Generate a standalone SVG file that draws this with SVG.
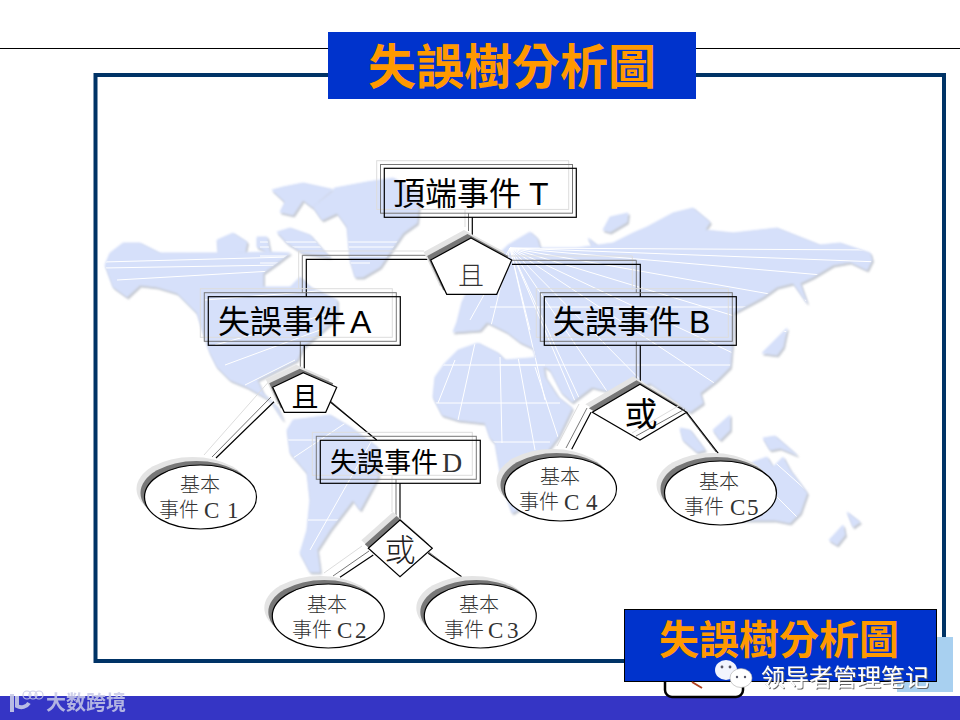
<svg xmlns="http://www.w3.org/2000/svg" width="960" height="720" viewBox="0 0 960 720">
<style>
.c{font-family:"Liberation Sans","Noto Sans CJK TC",sans-serif}
.h{font-family:"Liberation Sans","Noto Sans CJK TC",sans-serif;font-size:32px;fill:#000}
.s{font-family:"Noto Sans CJK TC",sans-serif;font-size:20px;fill:#333;font-weight:300}
.l{font-family:"Liberation Serif",serif;font-size:23px;fill:#333}
.t{font-family:"Noto Sans CJK TC",sans-serif;font-weight:700;fill:#ff9900}
.k{fill:none;stroke:#000;stroke-width:1.2}
.g{fill:none;stroke:#777;stroke-width:1}
.w{fill:none;stroke:#ddd;stroke-width:1}
.sd{fill:#777;stroke:none}
.sl{fill:#e4e4e4;stroke:none}
.sh{fill:#fff;stroke:#000;stroke-width:1.2}
.f{stroke:#fff;stroke-width:1;fill:none}
</style>
<defs>
<path id="m" d="M105,265L110,253L123,243L140,243L160,253L187,253L217,253L237,253L267,252L290,253L277,263L263,273L263,287L290,287L300,277L310,287L337,300L337,317L323,330L303,347L297,360L277,370L257,380L263,393L277,407L283,420L270,400L247,387L230,380L217,367L210,353L203,333L197,313L177,293L157,287L140,285L127,297L113,287Z
M217,240L233,233L247,242L245,252L218,253Z M257,237L267,237L270,253L257,247Z M277,232L290,228L310,235L323,250L330,257L303,253L287,243Z
M272,190L283,187L303,183L335,190L325,198L313,207L322,220L337,213L347,227L350,260L355,277L363,277L380,267L403,233L417,223L420,193L393,178L367,182L335,188L312,207L303,200L293,215L280,212L285,202Z
M287,430L293,420L330,415L350,427L377,447L378,477L360,510L353,500L330,530L317,550L320,572L310,572L300,553L307,530L310,500L307,473L290,453Z
M508,245L530,232L537,238L540,248L577,248L613,243L633,233L647,227L673,213L693,208L710,222L705,230L733,233L777,228L820,245L840,243L870,253L872,260L867,270L850,262L833,265L813,277L800,283L807,303L793,283L777,287L763,297L733,313L733,333L730,367L717,380L700,393L703,403L690,412L680,405L667,395L650,383L640,387L625,395L612,392L592,387L572,402L562,393L550,370L537,362L533,348L520,342L507,332L487,322L480,330L453,332L457,322L462,302L470,285L490,262Z
M458,350L478,343L498,353L505,360L542,357L545,377L558,397L572,408L558,437L548,450L535,500L512,513L502,483L495,443L490,438L485,423L458,420L442,415L433,397L435,377L445,363Z
M603,230L610,217L628,213L627,222L610,232Z M588,238L597,245L592,246Z M762,353L787,328L783,347L777,355Z
M713,430L730,415L730,430L720,440Z M680,428L690,430L705,450L697,452L683,440Z M763,438L775,436L797,455L780,448L770,450Z
M753,462L767,457L773,467L783,457L790,470L807,493L800,513L790,523L775,520L740,520L720,490Z
M847,512L860,522L853,527Z M843,525L845,535L837,545L829,540Z"/>
<clipPath id="mc"><use href="#m"/></clipPath>
<filter id="soft" x="-5%" y="-5%" width="110%" height="110%"><feGaussianBlur stdDeviation="0.8"/></filter>
<filter id="ds" x="-5%" y="-20%" width="110%" height="140%"><feDropShadow dx="1" dy="1" stdDeviation="0.6" flood-color="#666"/></filter>
<polygon id="p1" points="471,238 511.7,260 496.7,294.3 446.7,294.3 430.7,260"/>
<polygon id="p2" points="303.3,372.7 336.7,387.3 325.7,412.3 284.3,412.3 272.7,387.3"/>
<polygon id="d1" points="640,384.3 686.7,412.3 640,440 592.3,412.3"/>
<polygon id="d2" points="400,520 432.3,548.3 400,576.7 368.3,548.3"/>
</defs>
<rect width="960" height="720" fill="#fff"/>
<g id="map">
<use href="#m" x="1.5" y="2" fill="#c6cad2" stroke="#c6cad2" stroke-linejoin="round" filter="url(#soft)"/>
<use href="#m" fill="#d6e0fa" stroke="#d6e0fa" stroke-linejoin="round" filter="url(#soft)"/>
<g clip-path="url(#mc)">
<path class="f" d="M103,262L290,257M103,268L283,265M117,280L290,270M205,300L330,290M215,345L335,312M225,365L320,330M245,385L295,360M260,242H420M260,247H420M260,256H420M260,263H370M290,460L350,420M310,550L372,440M285,440L380,440M300,520L345,520M433,365H545M433,403H560M490,442H550M475,343L458,420M455,360L438,403M500,357L502,443M518,357L535,450M535,367L558,437M510,248L880,250M510,248L880,262M510,248L880,280M510,248L860,310M510,248L830,345M510,248L790,380M510,248L740,400M510,248L680,420M510,248L640,440M510,248L600,460M510,248L580,400M510,248L545,400M510,248L530,330M510,248L490,330M510,248L470,320M490,307H760M500,365H740M770,458L806,490M750,470L800,520"/>
</g>
</g>
<g id="header">
<line x1="0" y1="48.5" x2="960" y2="48.5" stroke="#000"/>
<rect x="95.5" y="75" width="848.5" height="586" fill="none" stroke="#003366" stroke-width="4"/>
<rect x="328" y="32" width="368" height="67" fill="#0033cc"/>
<text class="t" x="512" y="84" font-size="48" text-anchor="middle">失誤樹分析圖</text>
</g>
<g id="connectors">
<path class="w" d="M465,209V227M298.7,289V251H424M272,378L204,455M579,404L557,446M392,476V512M362,546L324,573M500,256H632.3V290"/>
<path class="g" d="M468.5,213V231M302.3,293V255.3H428M271,397L212,457M587,408L566,448M396,479V516M369,551L333,576M512,260.3H636.3V293M300.3,341V368M636.3,341V380M327,398L374,438M683,409L716,452M426,550L459,575"/>
<path class="k" d="M472.3,217V238M430.7,259.3H306.3V297M512,264.3H640.3V297M304.3,345V373M274,401.7L216,458M330,401.7L376.7,440M640.3,345V384M591,412.3L571.7,449.3M686.7,412.3L718.3,453.3M400,483V520M373.3,555L340,577.3M428.3,553.3L461.7,576.7"/>
</g>
<g id="node-T">
<rect class="w" x="376.7" y="160.7" width="192" height="48.7"/><rect class="g" x="380.5" y="164.5" width="192" height="48.7"/><rect class="k" x="384.3" y="168.3" width="192" height="49"/>
<text class="h" x="393" y="205">頂端事件<tspan x="529">T</tspan></text>
</g>
<g id="gate-T">
<use href="#p1" class="sl" x="-7" y="-8"/><use href="#p1" class="sd" x="-3.5" y="-4"/>
<use href="#p1" class="sh"/>
<text class="c" x="471" y="285" font-size="26" fill="#333" text-anchor="middle" font-weight="300">且</text>
</g>
<g id="node-A">
<rect class="w" x="200.3" y="288.7" width="192" height="48.6"/><rect class="g" x="204.3" y="292.7" width="192" height="48.6"/><rect class="k" x="208.3" y="296.7" width="192" height="48.6"/>
<text class="h" x="218" y="333">失誤事件<tspan x="350">A</tspan></text>
</g>
<g id="node-B">
<rect class="w" x="536.3" y="288.7" width="192" height="48.6"/><rect class="g" x="540.3" y="292.7" width="192" height="48.6"/><rect class="k" x="544.3" y="296.7" width="192" height="48.6"/>
<text class="h" x="553" y="333">失誤事件<tspan x="689">B</tspan></text>
</g>
<g id="gate-A">
<use href="#p2" class="sl" x="-7" y="-8"/><use href="#p2" class="sd" x="-3.5" y="-4"/>
<use href="#p2" class="sh"/>
<text class="c" x="305" y="407" font-size="27" fill="#000" text-anchor="middle">且</text>
</g>
<g id="gate-B">
<use href="#d1" class="sl" x="-7" y="-8"/><use href="#d1" class="sd" x="-3.5" y="-4"/>
<use href="#d1" class="sh"/>
<path class="g" d="M685,409L636,436"/><path class="w" d="M680,405L632,433"/>
<text class="c" x="641" y="426" font-size="33" fill="#000" text-anchor="middle">或</text>
</g>
<g id="node-D">
<rect class="w" x="312.3" y="432.3" width="160" height="43"/><rect class="g" x="316.3" y="436.3" width="160" height="43"/><rect class="k" x="320.3" y="440.3" width="160" height="43"/>
<text x="330" y="472" font-family="Liberation Sans,Noto Sans CJK TC,sans-serif" font-size="27" fill="#000">失誤事件<tspan x="442" font-family="Liberation Serif,serif" font-size="28" fill="#333">D</tspan></text>
</g>
<g id="gate-D">
<use href="#d2" class="sl" x="-7" y="-8"/><use href="#d2" class="sd" x="-3.5" y="-4"/>
<use href="#d2" class="sh"/>
<text class="c" x="400" y="561" font-size="31" fill="#222" font-weight="300" text-anchor="middle">或</text>
</g>
<g id="node-C1">
<ellipse class="sl" cx="192.5" cy="489" rx="56" ry="32"/><ellipse class="sd" cx="196.5" cy="493" rx="56" ry="32"/><ellipse class="sh" cx="200.5" cy="497" rx="56" ry="32"/>
<text class="s" x="180" y="492">基本</text><text class="s" x="159" y="517">事件</text><text class="l" x="204" y="518">C</text><text class="l" x="227" y="518">1</text>
</g>
<g id="node-C4">
<ellipse class="sl" cx="552.5" cy="481" rx="56" ry="32"/><ellipse class="sd" cx="556.5" cy="485" rx="56" ry="32"/><ellipse class="sh" cx="560.5" cy="489" rx="56" ry="32"/>
<text class="s" x="540" y="484">基本</text><text class="s" x="519" y="509">事件</text><text class="l" x="564" y="510">C</text><text class="l" x="586" y="510" fill="#777">4</text>
</g>
<g id="node-C5">
<ellipse class="sl" cx="712.5" cy="485" rx="56" ry="32"/><ellipse class="sd" cx="716.5" cy="489" rx="56" ry="32"/><ellipse class="sh" cx="720.5" cy="493" rx="56" ry="32"/>
<text class="s" x="699" y="489">基本</text><text class="s" x="684" y="514">事件</text><text class="l" x="730" y="515">C</text><text class="l" x="747" y="515" fill="#000">5</text>
</g>
<g id="node-C2">
<ellipse class="sl" cx="320.3" cy="608" rx="56" ry="32"/><ellipse class="sd" cx="324.3" cy="612" rx="56" ry="32"/><ellipse class="sh" cx="328.3" cy="616" rx="56" ry="32"/>
<text class="s" x="307" y="612">基本</text><text class="s" x="292" y="637">事件</text><text class="l" x="337" y="638">C</text><text class="l" x="355" y="638" fill="#000">2</text>
</g>
<g id="node-C3">
<ellipse class="sl" cx="472.3" cy="608" rx="56" ry="32"/><ellipse class="sd" cx="476.3" cy="612" rx="56" ry="32"/><ellipse class="sh" cx="480.3" cy="616" rx="56" ry="32"/>
<text class="s" x="459" y="612">基本</text><text class="s" x="444" y="637">事件</text><text class="l" x="488" y="638">C</text><text class="l" x="507" y="638">3</text>
</g>
<g id="footer">
<rect x="0" y="696" width="960" height="24" fill="#3535c5"/>
<rect x="897" y="637" width="56" height="55" fill="#a8d0f0"/>
<rect x="665" y="660" width="78" height="37" rx="7" fill="#fff" stroke="#000" stroke-width="2.5"/>
<rect x="624.5" y="609.5" width="312" height="72" fill="#0033cc" stroke="#000"/>
<path d="M692,682L702,688" stroke="#b04020" stroke-width="2"/>
<text class="t" x="779" y="654" font-size="40" text-anchor="middle">失誤樹分析圖</text>
<ellipse cx="726" cy="670" rx="11" ry="10" fill="#fff" opacity=".95"/><ellipse cx="741" cy="678" rx="11" ry="9.5" fill="#fff" stroke="#aaa" stroke-width=".6"/>
<circle cx="722" cy="667" r="1.4" fill="#556"/><circle cx="730" cy="667" r="1.4" fill="#556"/><circle cx="737" cy="677" r="1.2" fill="#556"/><circle cx="745" cy="677" r="1.2" fill="#556"/>
<text x="761" y="686" font-family="Noto Sans CJK SC,sans-serif" font-size="24" fill="#fff" filter="url(#ds)">领导者管理笔记</text>
<g fill="none" stroke="#c8cae8" opacity=".9">
<path d="M12,694V712" stroke-width="4"/><path d="M29,703A9,9,0,0,1,17,706V696" stroke-width="4"/>
<circle cx="27" cy="695" r="4" stroke-width="1.2"/><circle cx="33" cy="695" r="4" stroke-width="1.2"/><circle cx="39" cy="695" r="4" stroke-width="1.2"/>
</g>
<text x="46" y="710" font-family="Noto Sans CJK SC,sans-serif" font-size="20" font-weight="700" fill="#c8cae8" opacity=".85">大数跨境</text>
</g>
</svg>
